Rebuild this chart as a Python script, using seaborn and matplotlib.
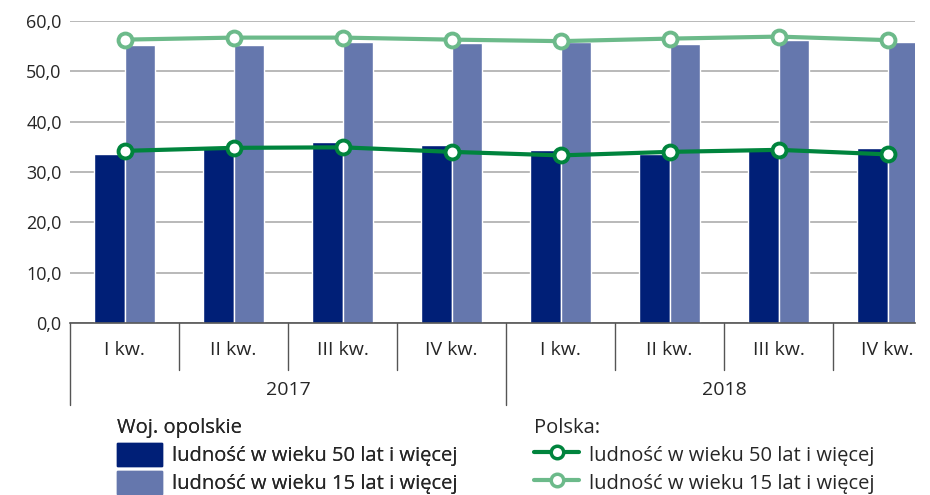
import matplotlib
matplotlib.use('Agg')
import matplotlib.pyplot as plt
import matplotlib.transforms as mtransforms
from matplotlib.lines import Line2D
from matplotlib.patches import Patch
import seaborn as sns
import pandas as pd

quarters = ['I kw.', 'II kw.', 'III kw.', 'IV kw.'] * 2
years = ['2017', '2018']
woj_50 = [33.6, 35.0, 36.0, 35.4, 34.3, 33.6, 34.5, 34.7]
woj_15 = [55.3, 55.3, 55.9, 55.7, 55.8, 55.5, 56.3, 55.8]
pl_50 = [34.2, 34.8, 34.9, 34.0, 33.3, 34.0, 34.4, 33.5]
pl_15 = [56.3, 56.7, 56.7, 56.3, 56.0, 56.5, 56.9, 56.2]
label_50 = 'ludność w wieku 50 lat i więcej'
label_15 = 'ludność w wieku 15 lat i więcej'

sns.set_style('white')
plt.rcParams['font.family'] = ['Open Sans', 'DejaVu Sans']

c_dark, c_light = '#001f77', '#6577ad'
g_dark, g_light = '#00843d', '#6cba8a'

pos = list(range(len(quarters)))
df = pd.DataFrame({
    'pos': pos * 2,
    'value': woj_50 + woj_15,
    'series': [label_50] * 8 + [label_15] * 8,
})

fig = plt.figure(figsize=(9.3, 4.95), dpi=100)
ax = fig.add_axes([70 / 930, 1 - 323 / 495, 845 / 930, 302 / 495])
sns.barplot(data=df, x='pos', y='value', hue='series',
            palette=[c_dark, c_light], width=0.56, gap=0, saturation=1,
            legend=False, ax=ax)
ax.plot(pos, pl_15, color=g_light, lw=3, marker='o', ms=10,
        mfc='white', mec=g_light, mew=2.8, zorder=5)
ax.plot(pos, pl_50, color=g_dark, lw=3, marker='o', ms=10,
        mfc='white', mec=g_dark, mew=2.8, zorder=5)

ax.set_ylim(0, 60)
ax.set_xlim(-0.5, 7.25)
ax.set_yticks(range(0, 61, 10))
ax.set_yticklabels([f'{v},0' for v in range(0, 61, 10)], fontsize=13)
ax.yaxis.grid(True, color='#b3b3b3', lw=1.3)
ax.set_axisbelow(True)
for s in ['top', 'right', 'left']:
    ax.spines[s].set_visible(False)
ax.spines['bottom'].set_color('#555555')
ax.spines['bottom'].set_linewidth(1.2)
ax.tick_params(axis='y', length=0, pad=6)
ax.set_xticks([])
ax.set_xlabel('')
ax.set_ylabel('')

trans = mtransforms.blended_transform_factory(ax.transData, ax.transAxes)
for p, q in zip(pos, quarters):
    ax.text(p, -0.09, q, transform=trans, ha='center', va='center',
            fontsize=14)
for i, y in enumerate(years):
    ax.text(i * 4 + 1.5, -0.222, y, transform=trans, ha='center',
            va='center', fontsize=14)
for x in [0.5, 1.5, 2.5, 4.5, 5.5, 6.5]:
    ax.plot([x, x], [0, -0.156], transform=trans, color='#555555', lw=1,
            clip_on=False)
for x in [-0.5, 3.5]:
    ax.plot([x, x], [0, -0.272], transform=trans, color='#555555', lw=1,
            clip_on=False)

fs = 14.5
h_bars = [Patch(color=c_dark, label=label_50),
          Patch(color=c_light, label=label_15)]
h_lines = [Line2D([], [], color=g_dark, lw=3, marker='o', ms=9, mfc='white',
                  mec=g_dark, mew=2.5, label=label_50),
           Line2D([], [], color=g_light, lw=3, marker='o', ms=9, mfc='white',
                  mec=g_light, mew=2.5, label=label_15)]
common = dict(loc='upper left', frameon=False, fontsize=fs, title_fontsize=fs,
              alignment='left', handlelength=2.25, handleheight=1.35,
              labelspacing=0.25, handletextpad=0.5, borderpad=0.0,
              borderaxespad=0.0)
leg1 = fig.legend(handles=h_bars, title='Woj. opolskie',
                  bbox_to_anchor=(117 / 930, 1 - 418 / 495), **common)
leg2 = fig.legend(handles=h_lines, title='Polska:',
                  bbox_to_anchor=(534 / 930, 1 - 418 / 495), **common)
fig.add_artist(leg1)

fig.savefig('out.png', dpi=100)
